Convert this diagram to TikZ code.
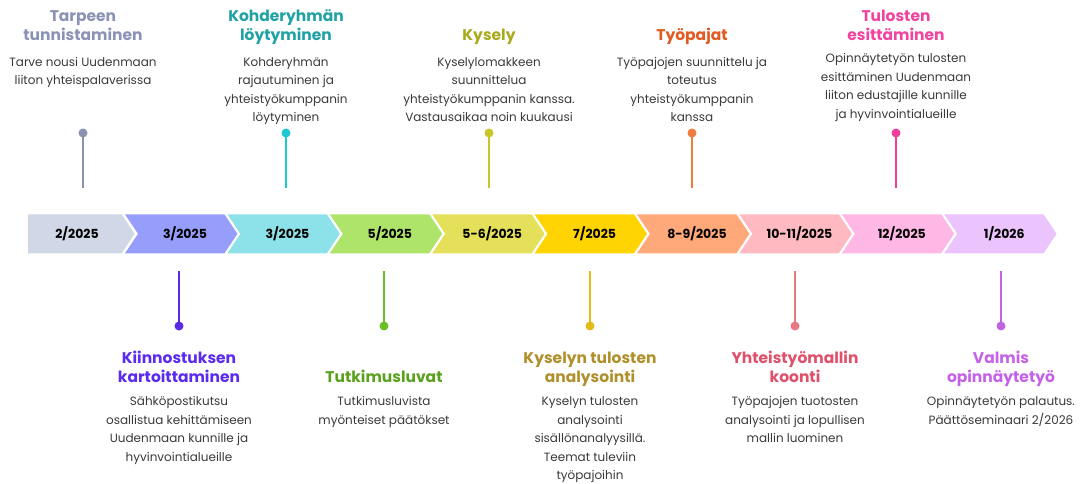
\documentclass[tikz,border=0pt]{standalone}
\usepackage{fontspec}
\setmainfont{Poppins}
\definecolor{bodygray}{HTML}{3A3A3A}
% chevron fills
\definecolor{cA}{HTML}{D0D7E6}
\definecolor{cB}{HTML}{979DFB}
\definecolor{cC}{HTML}{8CE2E8}
\definecolor{cD}{HTML}{AEE46A}
\definecolor{cE}{HTML}{E5E05A}
\definecolor{cF}{HTML}{FFD400}
\definecolor{cG}{HTML}{FFA87A}
\definecolor{cH}{HTML}{FFB9C1}
\definecolor{cI}{HTML}{FFB8E5}
\definecolor{cJ}{HTML}{EBC3FD}
% title colours
\definecolor{tA}{HTML}{8A93B5}
\definecolor{tB}{HTML}{5A2BF0}
\definecolor{tC}{HTML}{20A2A5}
\definecolor{tD}{HTML}{5AA21E}
\definecolor{tE}{HTML}{A9AA1E}
\definecolor{tF}{HTML}{B0902A}
\definecolor{tG}{HTML}{E05A22}
\definecolor{tH}{HTML}{E0506A}
\definecolor{tI}{HTML}{F0449E}
\definecolor{tJ}{HTML}{C561E8}
% stem colours
\definecolor{sA}{HTML}{8A92B2}
\definecolor{sB}{HTML}{5B2BE8}
\definecolor{sC}{HTML}{1EC8D2}
\definecolor{sD}{HTML}{6BBF24}
\definecolor{sE}{HTML}{C8C62A}
\definecolor{sF}{HTML}{E2BC1A}
\definecolor{sG}{HTML}{F07C3C}
\definecolor{sH}{HTML}{E87882}
\definecolor{sI}{HTML}{EE3F9A}
\definecolor{sJ}{HTML}{C065E0}

\newcommand{\mychev}[2]{%
  \fill[#2] (#1,-214.3) -- ({#1+99.4},-214.3) -- ({#1+112.4},-233.8) -- ({#1+99.4},-253.3) -- (#1,-253.3) -- ({#1+13},-233.8) -- cycle;}

\tikzset{
  ttl/.style={font=\bfseries\fontsize{15.5}{19}\selectfont, text=#1, align=center, anchor=north, inner sep=0pt},
  bdy/.style={font=\fontsize{12}{18.5}\selectfont, text=bodygray, align=center, anchor=north, inner sep=0pt},
  chevlabel/.style={font=\bfseries\fontsize{12.5}{15}\selectfont, text=black, inner sep=0pt},
  dotnode/.style={circle, fill=#1, minimum size=9pt, inner sep=0pt},
  stemline/.style={draw=#1, line width=2pt},
}

\begin{document}
\begin{tikzpicture}[x=1pt,y=1pt]
\useasboundingbox (0,0) rectangle (1085,-484);
\fill[white] (0,0) rectangle (1085,-484);

% chevrons
\fill[cA] (28,-214.3) -- (121.6,-214.3) -- (134.6,-233.8) -- (121.6,-253.3) -- (28,-253.3) -- cycle;
\mychev{125}{cB}
\mychev{227.4}{cC}
\mychev{329.8}{cD}
\mychev{432.2}{cE}
\mychev{534.6}{cF}
\mychev{637}{cG}
\mychev{739.4}{cH}
\mychev{841.8}{cI}
\mychev{944.2}{cJ}

\node[chevlabel] (c0) at (77,-234) {2/2025};
\node[chevlabel] (c1) at (185,-234) {3/2025};
\node[chevlabel] (c2) at (287.4,-234) {3/2025};
\node[chevlabel] (c3) at (389.8,-234) {5/2025};
\node[chevlabel] (c4) at (492.2,-234) {5-6/2025};
\node[chevlabel] (c5) at (594.6,-234) {7/2025};
\node[chevlabel] (c6) at (697,-234) {8-9/2025};
\node[chevlabel] (c7) at (799.4,-234) {10-11/2025};
\node[chevlabel] (c8) at (901.8,-234) {12/2025};
\node[chevlabel] (c9) at (1004.2,-234) {1/2026};

% top stems
\node[dotnode=sA] (d1) at (83,-133) {};
\coordinate (e1) at (83,-188);
\draw[stemline=sA] (d1.center) -- (e1);
\node[dotnode=sC] (d3) at (286,-133) {};
\coordinate (e3) at (286,-188);
\draw[stemline=sC] (d3.center) -- (e3);
\node[dotnode=sE] (d5) at (489,-133) {};
\coordinate (e5) at (489,-188);
\draw[stemline=sE] (d5.center) -- (e5);
\node[dotnode=sG] (d7) at (692,-133) {};
\coordinate (e7) at (692,-188);
\draw[stemline=sG] (d7.center) -- (e7);
\node[dotnode=sI] (d9) at (896,-133) {};
\coordinate (e9) at (896,-188);
\draw[stemline=sI] (d9.center) -- (e9);

% bottom stems
\node[dotnode=sB] (d2) at (179,-326) {};
\coordinate (e2) at (179,-271);
\draw[stemline=sB] (e2) -- (d2.center);
\node[dotnode=sD] (d4) at (384,-326) {};
\coordinate (e4) at (384,-271);
\draw[stemline=sD] (e4) -- (d4.center);
\node[dotnode=sF] (d6) at (590,-326) {};
\coordinate (e6) at (590,-271);
\draw[stemline=sF] (e6) -- (d6.center);
\node[dotnode=sH] (d8) at (795,-326) {};
\coordinate (e8) at (795,-271);
\draw[stemline=sH] (e8) -- (d8.center);
\node[dotnode=sJ] (d10) at (1001,-326) {};
\coordinate (e10) at (1001,-271);
\draw[stemline=sJ] (e10) -- (d10.center);

% top texts
\node[ttl=tA] (t1) at (83,-7.7) {\strut Tarpeen\\tunnistaminen};
\node[bdy] (b1) at (83,-53) {\strut Tarve nousi Uudenmaan\\liiton yhteispalaverissa};
\node[ttl=tC] (t3) at (286,-7.7) {\strut Kohderyhmän\\löytyminen};
\node[bdy] (b3) at (286,-53) {\strut Kohderyhmän\\rajautuminen ja\\yhteistyökumppanin\\löytyminen};
\node[ttl=tE] (t5) at (489,-26.7) {\strut Kysely};
\node[bdy] (b5) at (489,-53) {\strut Kyselylomakkeen\\suunnittelua\\yhteistyökumppanin kanssa.\\Vastausaikaa noin kuukausi};
\node[ttl=tG] (t7) at (692,-26.7) {\strut Työpajat};
\node[bdy] (b7) at (692,-53) {\strut Työpajojen suunnittelu ja\\toteutus\\yhteistyökumppanin\\kanssa};
\node[ttl=tI] (t9) at (896,-7.7) {\strut Tulosten\\esittäminen};
\node[bdy] (b9) at (896,-49.7) {\strut Opinnäytetyön tulosten\\esittäminen Uudenmaan\\liiton edustajille kunnille\\ja hyvinvointialueille};

% bottom texts
\node[ttl=tB] (t2) at (179,-350) {\strut Kiinnostuksen\\kartoittaminen};
\node[bdy] (b2) at (179,-392.7) {\strut Sähköpostikutsu\\osallistua kehittämiseen\\Uudenmaan kunnille ja\\hyvinvointialueille};
\node[ttl=tD] (t4) at (384,-369) {\strut Tutkimusluvat};
\node[bdy] (b4) at (384,-392.7) {\strut Tutkimusluvista\\myönteiset päätökset};
\node[ttl=tF] (t6) at (590,-350) {\strut Kyselyn tulosten\\analysointi};
\node[bdy] (b6) at (590,-392.7) {\strut Kyselyn tulosten\\analysointi\\sisällönanalyysillä.\\Teemat tuleviin\\työpajoihin};
\node[ttl=tH] (t8) at (795,-350) {\strut Yhteistyömallin\\koonti};
\node[bdy] (b8) at (795,-392.7) {\strut Työpajojen tuotosten\\analysointi ja lopullisen\\mallin luominen};
\node[ttl=tJ] (t10) at (1001,-350) {\strut Valmis\\opinnäytetyö};
\node[bdy] (b10) at (1001,-392.7) {\strut Opinnäytetyön palautus.\\Päättöseminaari 2/2026};
\end{tikzpicture}
\end{document}
